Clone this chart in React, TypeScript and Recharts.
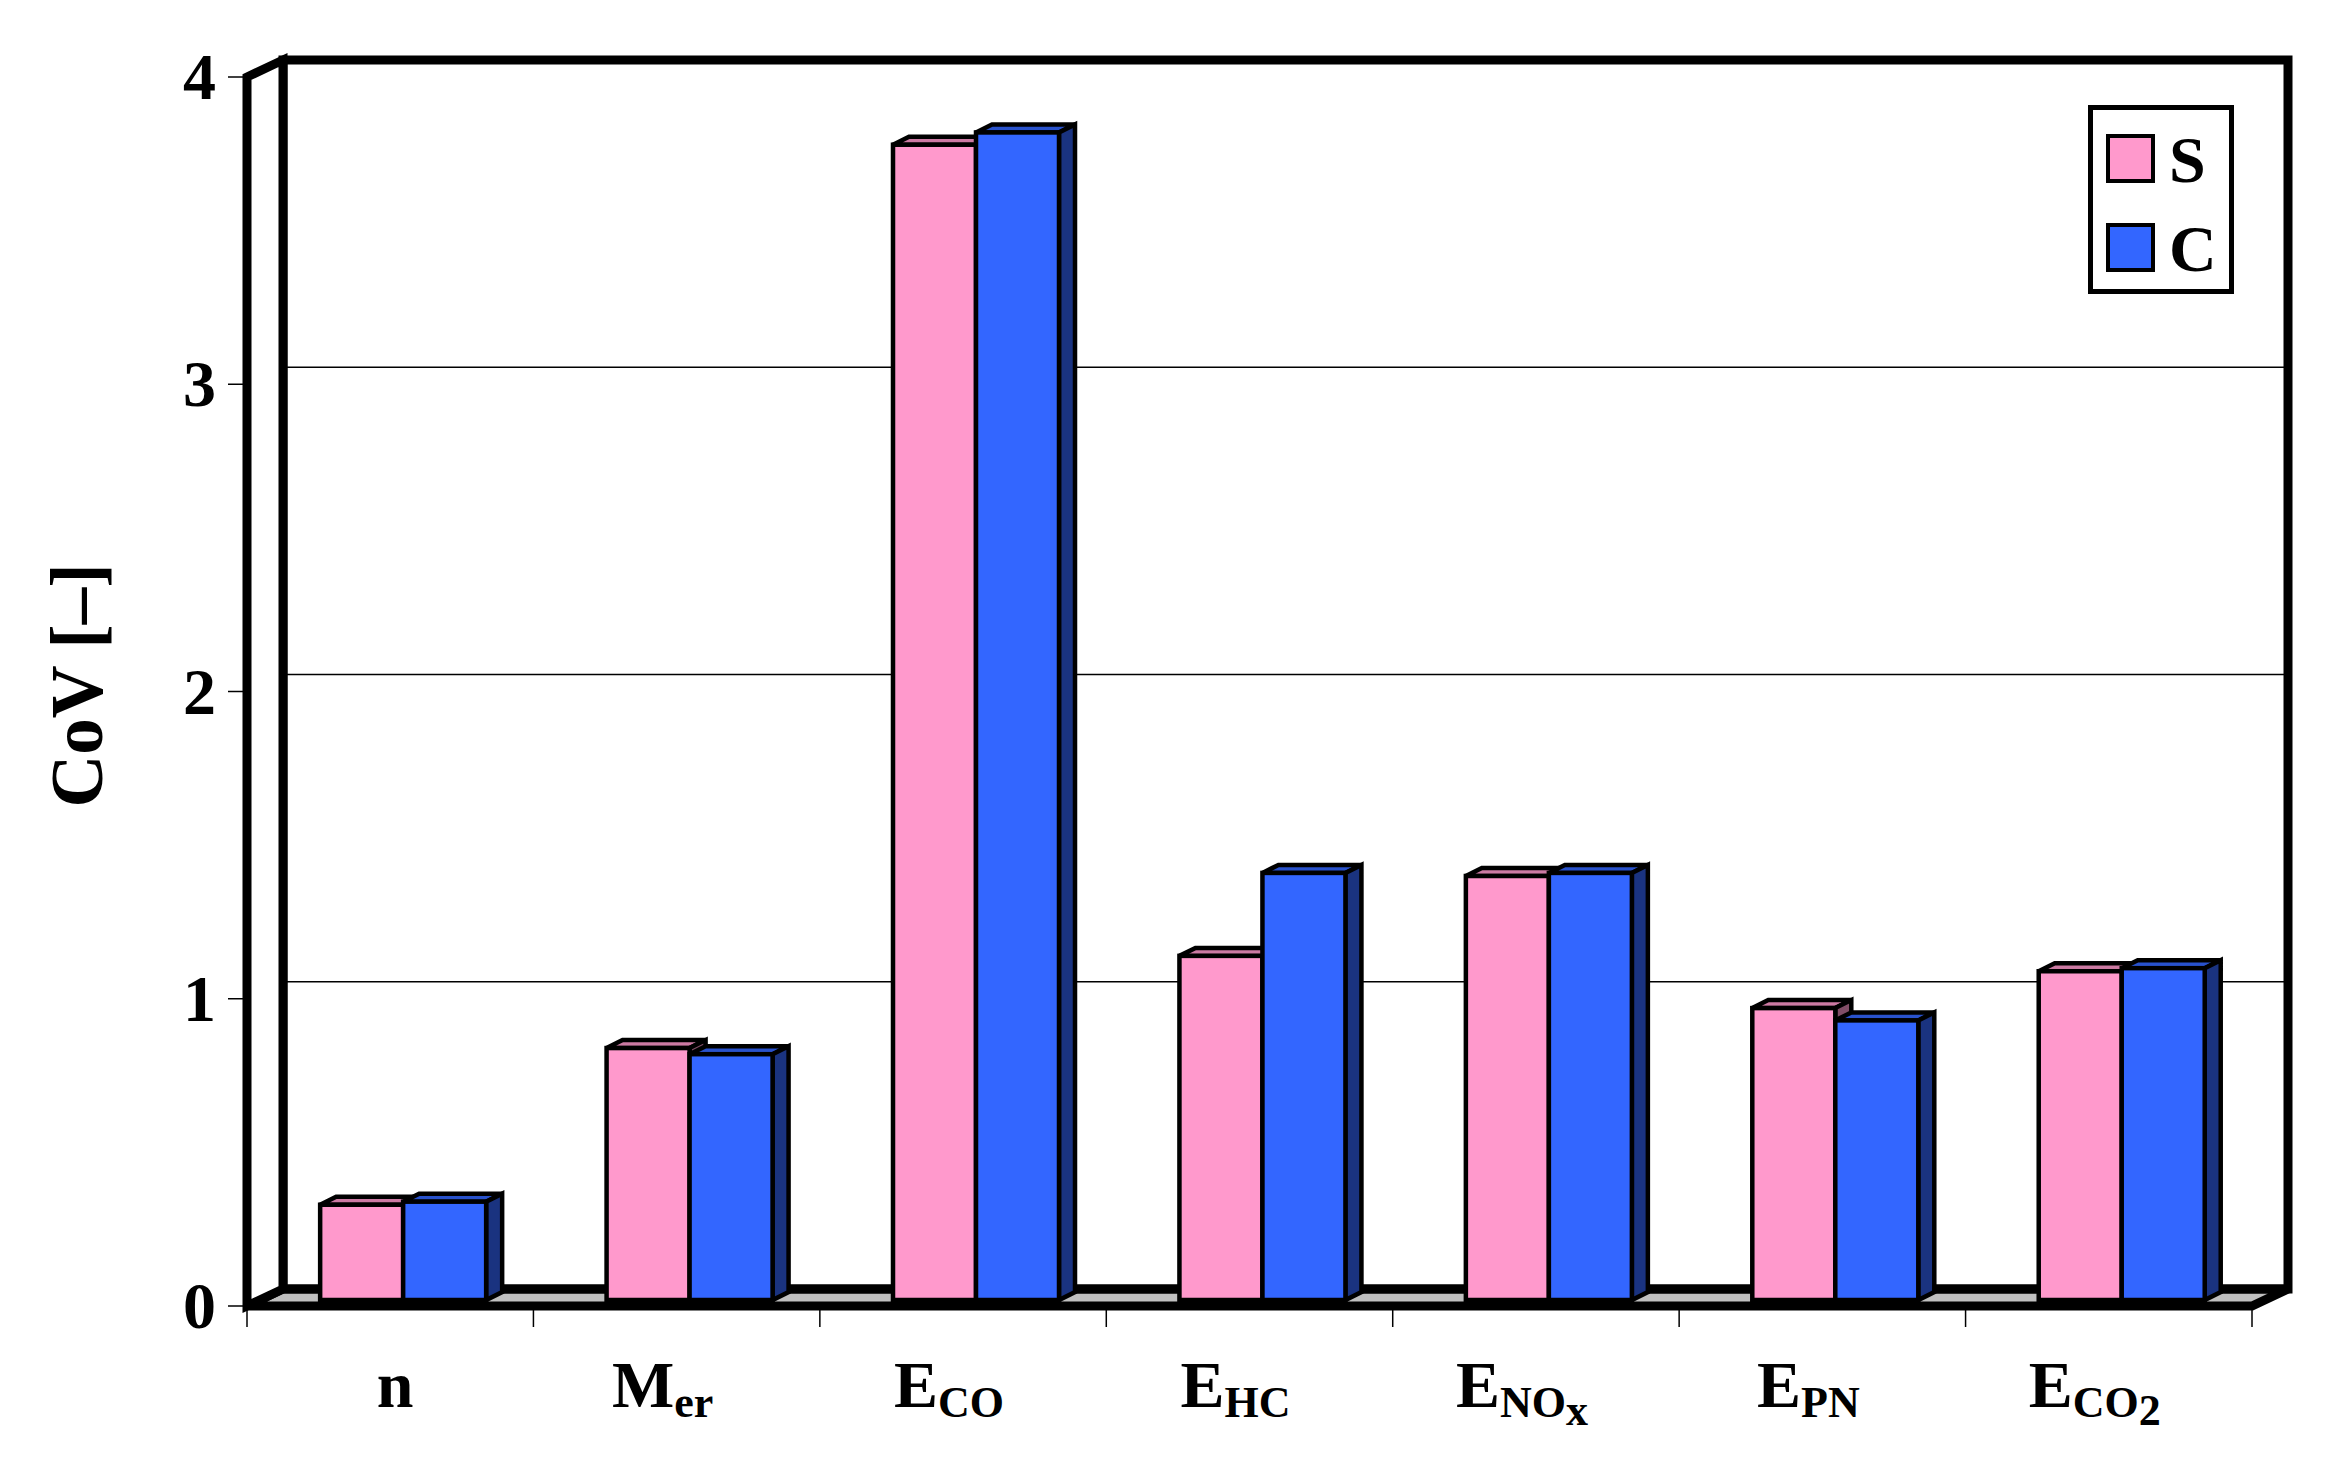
import React from "react";
import {
  BarChart,
  Bar,
  XAxis,
  YAxis,
  CartesianGrid,
  ReferenceArea,
} from "recharts";

const categories = ["n", "Mer", "ECO", "EHC", "ENOx", "EPN", "ECO2"];
const labelMain = ["n", "M", "E", "E", "E", "E", "E"];
const labelSub = ["", "er", "CO", "HC", "NO", "PN", "CO"];
const labelSub2 = ["", "", "", "", "x", "", "2"];
const seriesS = [0.31, 0.82, 3.76, 1.12, 1.38, 0.95, 1.07];
const seriesC = [0.32, 0.8, 3.8, 1.39, 1.39, 0.91, 1.08];
const seriesNames = ["S", "C"];
const yTicks = [0, 1, 2, 3, 4];

const data = categories.map((c, i) => ({ name: c, S: seriesS[i], C: seriesC[i] }));

const FONT = "'Liberation Serif', 'Times New Roman', serif";
// perspective offset of the back wall
const DX = 36;
const DY = -17;
// bars sit part way into the depth
const BAR_DX = 13;
const BAR_DY = -6;
const BAR_DEPTH_X = 16;
const BAR_DEPTH_Y = -8;

const PINK = { front: "#FF99CC", top: "#CC7AA3", side: "#804D66" };
const BLUE = { front: "#3366FF", top: "#2952CC", side: "#1A3380" };
const COLORS = [PINK, BLUE];

function makeBox(col: { front: string; top: string; side: string }) {
  return (props: any) => {
    const { x, y, width, height } = props;
    if (x == null || y == null || !height) return <g />;
    const fx = x + BAR_DX;
    const fy = y + BAR_DY;
    const w = width;
    const h = height;
    const top = `${fx},${fy} ${fx + BAR_DEPTH_X},${fy + BAR_DEPTH_Y} ${fx + w + BAR_DEPTH_X},${fy + BAR_DEPTH_Y} ${fx + w},${fy}`;
    const side = `${fx + w},${fy} ${fx + w + BAR_DEPTH_X},${fy + BAR_DEPTH_Y} ${fx + w + BAR_DEPTH_X},${fy + h + BAR_DEPTH_Y} ${fx + w},${fy + h}`;
    return (
      <g stroke="#000" strokeWidth={4.5} strokeLinejoin="miter">
        <polygon points={top} fill={col.top} />
        <polygon points={side} fill={col.side} />
        <rect x={fx} y={fy} width={w} height={h} fill={col.front} />
      </g>
    );
  };
}

const Walls = (props: any) => {
  const { x, y, width, height } = props;
  if (x == null) return <g />;
  const x0 = x;
  const x1 = x + width;
  const y0 = y;
  const y1 = y + height;
  const step = width / categories.length;
  const ticks = Array.from({ length: categories.length + 1 }, (_, i) => x0 + i * step);
  return (
    <g>
      <polygon
        points={`${x0},${y1} ${x1},${y1} ${x1 + DX},${y1 + DY} ${x0 + DX},${y1 + DY}`}
        fill="#C0C0C0"
        stroke="#000"
        strokeWidth={9}
        strokeLinejoin="miter"
      />
      <rect x={x0 + DX} y={y0 + DY} width={width} height={height} fill="none" stroke="#000" strokeWidth={9} />
      <polygon
        points={`${x0},${y1} ${x0},${y0} ${x0 + DX},${y0 + DY} ${x0 + DX},${y1 + DY}`}
        fill="#fff"
        stroke="#000"
        strokeWidth={9}
        strokeLinejoin="miter"
      />
      {ticks.map((tx, i) => (
        <line key={i} x1={tx} x2={tx} y1={y1 + 4} y2={y1 + 21} stroke="#000" strokeWidth={1.5} />
      ))}
    </g>
  );
};

const gridLine = (p: any) => {
  const { x1, x2, y1, index } = p;
  if (index === 0 || index === yTicks.length - 1) return <g key={`g${index}`} />;
  return (
    <line
      key={`g${index}`}
      x1={x1 + DX}
      x2={x2 + DX}
      y1={y1 + DY}
      y2={y1 + DY}
      stroke="#000"
      strokeWidth={1.5}
    />
  );
};

const YTick = (p: any) => {
  const { x, y, payload } = p;
  return (
    <g>
      <line x1={x - 19} x2={x - 4} y1={y} y2={y} stroke="#000" strokeWidth={1.5} />
      <text x={x - 31} y={y + 22} textAnchor="end" fontFamily={FONT} fontWeight="bold" fontSize={66} fill="#000">
        {payload.value}
      </text>
    </g>
  );
};

const XTick = (p: any) => {
  const { x, y, index } = p;
  const sub = labelSub[index];
  const sub2 = labelSub2[index];
  const shift = sub ? -14 : 5;
  return (
    <text x={x + shift} y={y + 101} textAnchor="middle" fontFamily={FONT} fontWeight="bold" fontSize={66} fill="#000">
      <tspan>{labelMain[index]}</tspan>
      {sub ? (
        <tspan fontSize={44} dy={10}>
          {sub}
        </tspan>
      ) : null}
      {sub2 ? (
        <tspan fontSize={44} dy={8}>
          {sub2}
        </tspan>
      ) : null}
    </text>
  );
};

const YLabel = (p: any) => {
  const vb = p.viewBox || { x: 147, y: 77, width: 100, height: 1229 };
  const cy = vb.y + vb.height / 2 - 6;
  return (
    <text
      transform="rotate(-90)"
      x={-cy}
      y={102}
      textAnchor="middle"
      fontFamily={FONT}
      fontWeight="bold"
      fontSize={73}
      fill="#000"
    >
      CoV [–]
    </text>
  );
};

const LegendBox = () => (
  <svg width={146} height={190} style={{ position: "absolute", left: 2088, top: 105 }}>
    <rect x={2.5} y={2.5} width={141} height={184} fill="#fff" stroke="#000" strokeWidth={5} />
    {seriesNames.map((name, i) => (
      <g key={name}>
        <rect x={20} y={31 + i * 89} width={45} height={45} fill={COLORS[i].front} stroke="#000" strokeWidth={4} />
        <text x={81} y={77 + i * 89} fontFamily={FONT} fontWeight="bold" fontSize={66} fill="#000">
          {name}
        </text>
      </g>
    ))}
  </svg>
);

export default function App() {
  return (
    <div style={{ position: "absolute", left: 0, top: 0, width: 2340, height: 1465, background: "#fff" }}>
      <BarChart
        width={2340}
        height={1465}
        data={data}
        margin={{ top: 77, right: 88, bottom: 59, left: 147 }}
        barCategoryGap="21%"
        barGap={0}
      >
        <CartesianGrid vertical={false} horizontal={gridLine} />
        <ReferenceArea y1={0} y2={4} ifOverflow="visible" shape={<Walls />} />
        <XAxis
          dataKey="name"
          height={100}
          axisLine={false}
          tickLine={false}
          tickSize={0}
          tickMargin={0}
          interval={0}
          tick={<XTick />}
        />
        <YAxis
          width={100}
          domain={[0, 4]}
          ticks={yTicks}
          axisLine={false}
          tickLine={false}
          tickSize={0}
          tickMargin={0}
          tick={<YTick />}
          label={<YLabel />}
        />
        <Bar dataKey="S" isAnimationActive={false} shape={makeBox(PINK)} />
        <Bar dataKey="C" isAnimationActive={false} shape={makeBox(BLUE)} />
      </BarChart>
      <LegendBox />
    </div>
  );
}
